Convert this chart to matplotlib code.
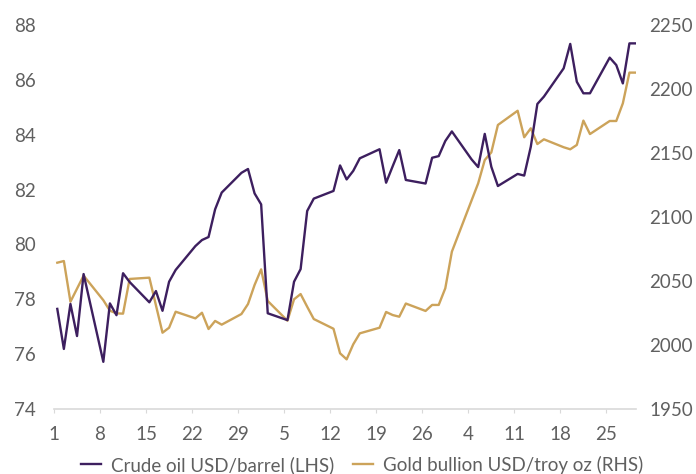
import pandas as pd
import matplotlib
matplotlib.use('Agg')
import matplotlib.pyplot as plt

plt.rcParams['font.family'] = ['Lato', 'DejaVu Sans']

# business days, Jan 1 - Mar 29 2024
dates = pd.bdate_range('2024-01-01', '2024-03-29')

oil = [77.65, 76.19, 77.83, 76.66, 78.92,
       75.72, 77.85, 77.42, 78.95, 78.63,
       77.89, 78.30, 77.58, 78.64, 79.07,
       79.94, 80.16, 80.27, 81.28, 81.89,
       82.61, 82.75, 81.86, 81.46, 77.49,
       77.24, 78.64, 79.10, 81.22, 81.67,
       81.95, 82.88, 82.37, 82.68, 83.14,
       83.47, 82.25, 82.85, 83.44, 82.35,
       82.22, 83.16, 83.22, 83.77, 84.12,
       83.10, 82.82, 84.03, 82.83, 82.13,
       82.57, 82.51, 83.56, 85.12, 85.39,
       86.42, 87.31, 85.93, 85.51, 85.51,
       86.81, 86.54, 85.87, 87.33, 87.33]

gold = [2064.3, 2065.6, 2033.8, 2044.0, 2054.2,
        2035.0, 2026.8, 2024.7, 2024.5, 2051.6,
        2052.6, 2031.0, 2009.6, 2013.5, 2026.0,
        2020.8, 2025.2, 2012.5, 2018.8, 2015.9,
        2024.2, 2032.0, 2046.9, 2059.1, 2034.4,
        2019.0, 2035.7, 2039.8, 2029.9, 2020.3,
        2012.7, 1993.5, 1988.8, 2000.5, 2009.1,
        2013.5, 2025.8, 2023.4, 2022.1, 2032.4,
        2026.6, 2031.3, 2031.3, 2044.3, 2072.9,
        2113.0, 2126.3, 2144.5, 2150.5, 2171.9,
        2183.0, 2162.3, 2169.3, 2157.0, 2160.7,
        2154.5, 2152.9, 2156.3, 2175.3, 2164.8,
        2175.0, 2175.0, 2188.8, 2212.8, 2212.8]

tick_labels = ['1', '8', '15', '22', '29', '5', '12', '19', '26', '4', '11', '18', '25']

oil_color = '#3d1f5f'
gold_color = '#cca35a'
text_color = '#606060'
fs = 13.5

# days since Jan 1, points drawn mid-day
x = (dates - dates[0]).days + 0.5

fig = plt.figure(figsize=(6.96, 4.74), dpi=100)
ax = fig.add_axes([54 / 696, 1 - 409 / 474, (636 - 54) / 696, 384 / 474])
ax2 = ax.twinx()

l1, = ax.plot(x, oil, color=oil_color, lw=1.7, label='Crude oil USD/barrel (LHS)', zorder=3)
l2, = ax2.plot(x, gold, color=gold_color, lw=1.7, label='Gold bullion USD/troy oz (RHS)')
ax.set_zorder(ax2.get_zorder() + 1)
ax.patch.set_visible(False)

ax.set_xlim(0, 88.5)
ax.set_ylim(74, 88)
ax2.set_ylim(1950, 2250)
ax.set_yticks(range(74, 89, 2))
ax2.set_yticks(range(1950, 2251, 50))
ax.set_xticks(range(0, 85, 7))
ax.set_xticklabels(tick_labels)

for a in (ax, ax2):
    for s in a.spines.values():
        s.set_visible(False)
ax.spines['bottom'].set_visible(True)
ax.spines['bottom'].set_color('#d9d9d9')
ax.spines['bottom'].set_linewidth(1.2)

ax.tick_params(axis='x', length=3, color='#d9d9d9', labelsize=fs, labelcolor=text_color, pad=9)
ax.tick_params(axis='y', length=0, labelsize=fs, labelcolor=text_color, pad=13)
ax2.tick_params(axis='y', length=0, labelsize=fs, labelcolor=text_color, pad=41)
for t in ax2.get_yticklabels():
    t.set_horizontalalignment('right')

fig.legend(handles=[l1, l2], loc='lower center', bbox_to_anchor=(0.52, -0.035), ncol=2,
           frameon=False, fontsize=fs, labelcolor=text_color, handlelength=1.1,
           columnspacing=1.0, handletextpad=0.5)

fig.savefig('out.png', dpi=100)
